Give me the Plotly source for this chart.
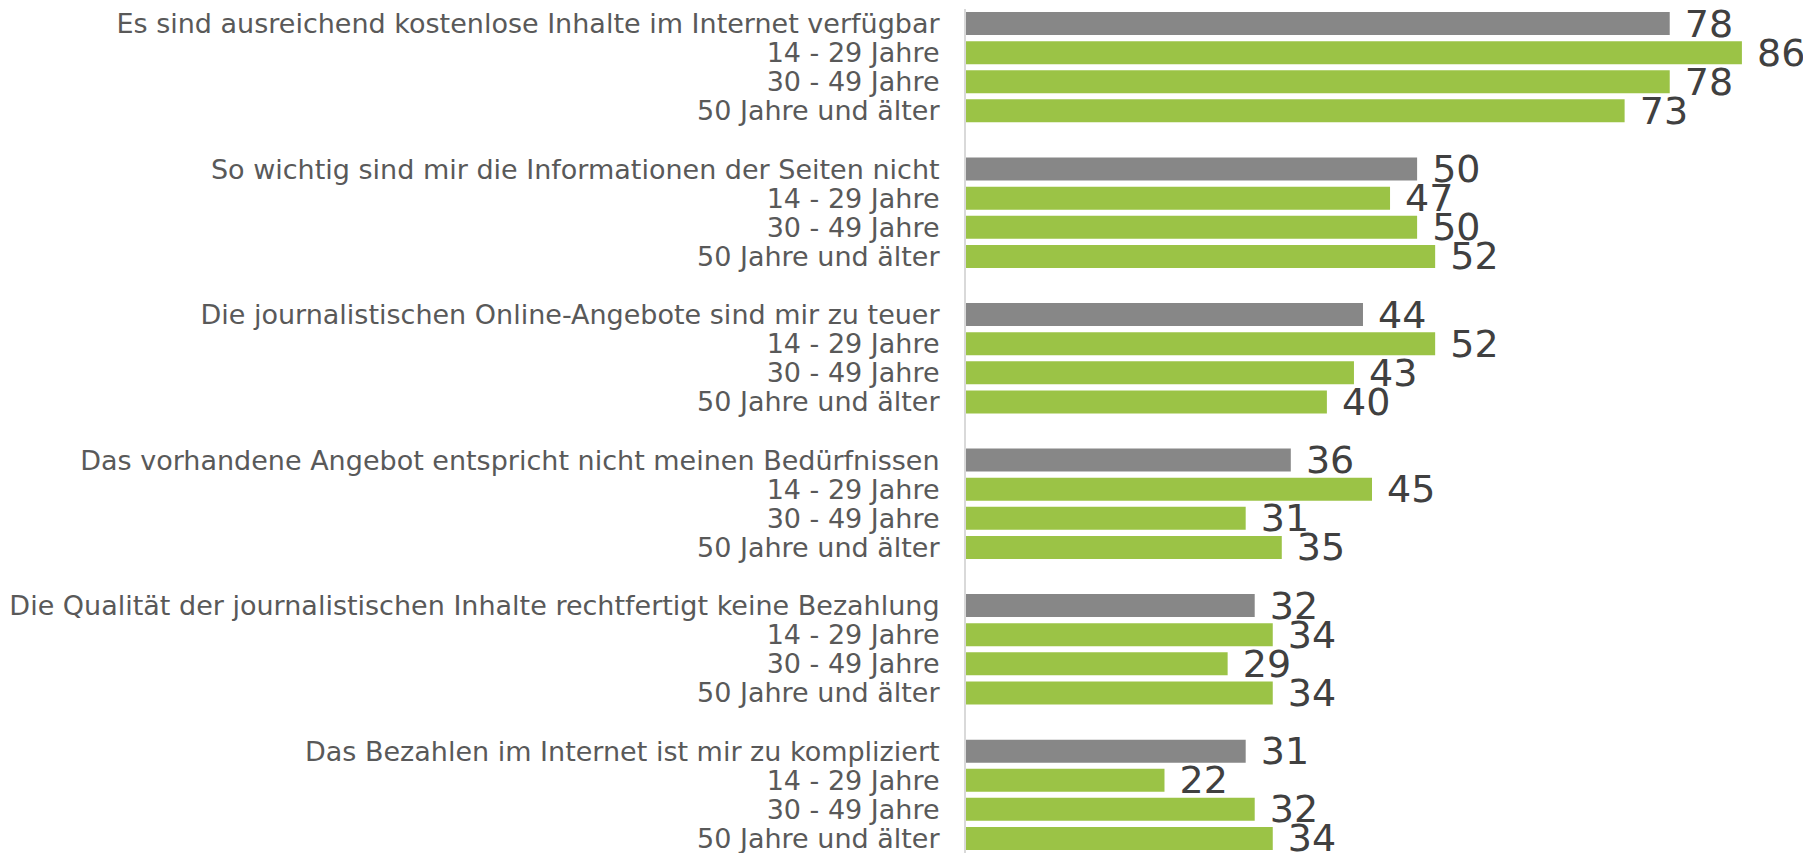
import plotly.graph_objects as go

questions = [
    "Es sind ausreichend kostenlose Inhalte im Internet verfügbar",
    "So wichtig sind mir die Informationen der Seiten nicht",
    "Die journalistischen Online-Angebote sind mir zu teuer",
    "Das vorhandene Angebot entspricht nicht meinen Bedürfnissen",
    "Die Qualität der journalistischen Inhalte rechtfertigt keine Bezahlung",
    "Das Bezahlen im Internet ist mir zu kompliziert",
]
age_groups = ["14 - 29 Jahre", "30 - 49 Jahre", "50 Jahre und älter"]

total_values = [78, 50, 44, 36, 32, 31]
age_values = [
    [86, 78, 73],
    [47, 50, 52],
    [52, 43, 40],
    [45, 31, 35],
    [34, 29, 34],
    [22, 32, 34],
]

GROUP = len(age_groups) + 2  # header + ages + blank slot

tot_y = [g * GROUP for g in range(len(questions))]
age_y, age_x = [], []
for g, vals in enumerate(age_values):
    for k, v in enumerate(vals):
        age_y.append(g * GROUP + 1 + k)
        age_x.append(v)

tickvals, ticktext = [], []
for g, q in enumerate(questions):
    tickvals.append(g * GROUP)
    ticktext.append(q)
    for k, a in enumerate(age_groups):
        tickvals.append(g * GROUP + 1 + k)
        ticktext.append(a)

last_slot = max(tickvals)

FONT = "Verdana, DejaVu Sans, sans-serif"
label_font = dict(family=FONT, size=38, color="#404040")
BAR_W = 0.79

fig = go.Figure()
fig.add_trace(go.Bar(
    x=total_values, y=tot_y, orientation="h", width=BAR_W,
    marker=dict(color="#878787", line=dict(width=0)),
    text=total_values, texttemplate=" %{x}", textposition="outside",
    textfont=label_font, cliponaxis=False, constraintext="none",
    hoverinfo="x+y",
))
fig.add_trace(go.Bar(
    x=age_x, y=age_y, orientation="h", width=BAR_W,
    marker=dict(color="#9BC346", line=dict(width=0)),
    text=age_x, texttemplate=" %{x}", textposition="outside",
    textfont=label_font, cliponaxis=False, constraintext="none",
    hoverinfo="x+y",
))

fig.update_layout(
    width=1803, height=845,
    margin=dict(l=958, r=33, t=1, b=0, autoexpand=False),
    paper_bgcolor="white", plot_bgcolor="white",
    showlegend=False, barmode="overlay",
    font=dict(family=FONT),
)
fig.update_xaxes(range=[0, 90], visible=False, showgrid=False, zeroline=False)
fig.update_yaxes(
    range=[last_slot + 0.5, -0.5],
    tickmode="array", tickvals=tickvals, ticktext=ticktext,
    tickfont=dict(family=FONT, size=27, color="#595959"),
    ticklabeloverflow="allow",
    showline=True, linecolor="#D9D9D9", linewidth=2,
    ticks="outside", ticklen=19, tickcolor="rgba(0,0,0,0)",
    showgrid=False, zeroline=False, automargin=False,
)

fig.write_html("out.html")
